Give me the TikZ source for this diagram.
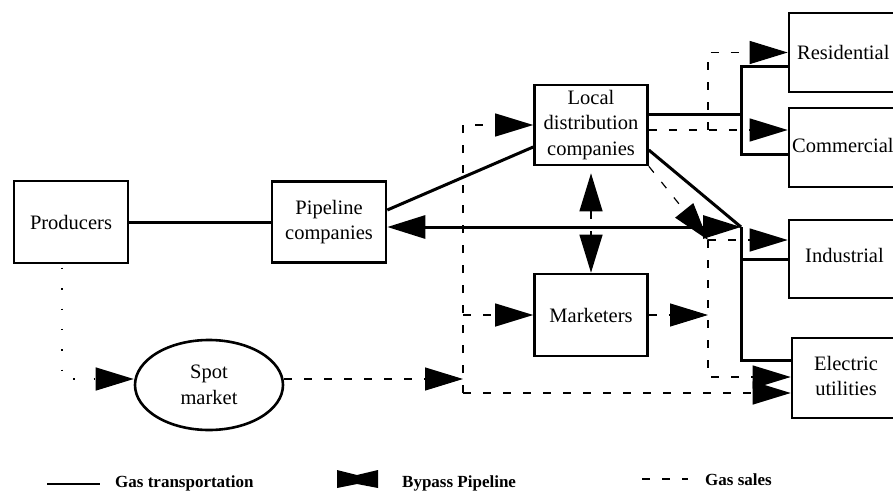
\documentclass[tikz,border=0pt]{standalone}
\usepackage{fontspec}
\setmainfont{Liberation Serif}
\usetikzlibrary{arrows.meta,shapes.geometric}
\begin{document}
\begin{tikzpicture}[x=1pt,y=-1pt,
  box/.style={draw,line width=2.6pt,inner sep=0pt,align=center,font=\fontsize{20.5}{25.5}\selectfont},
  txt/.style={inner sep=0pt,align=center,font=\fontsize{20.5}{25.5}\selectfont},
  legtxt/.style={inner sep=0pt,font=\bfseries\fontsize{17}{20}\selectfont},
  transp/.style={line width=3pt},
  sale/.style={line width=1.2pt,dash pattern=on 8pt off 12pt},
  dotline/.style={line width=1.4pt,dash pattern=on 1.4pt off 19pt,dash phase=17pt},
  tip/.style={-{Triangle[length=38pt,width=23pt]}},
  twotip/.style={{Triangle[length=38pt,width=23pt]}-{Triangle[length=38pt,width=23pt]}}
]
\useasboundingbox (0,0) rectangle (893,492);

% boxes
\node[box,minimum width=114pt,minimum height=82pt] (prod) at (71,222) {Producers};
\node[box,minimum width=114pt,minimum height=81pt] (pipe) at (329,222) {Pipeline\\companies};
\node[box,minimum width=113pt,minimum height=80pt] (ldc) at (591,125) {Local\\distribution\\companies};
\node[box,minimum width=113pt,minimum height=82pt] (mkt) at (591,315) {Marketers};
\node[box,minimum width=120pt,minimum height=79pt] (res) at (849,52.5) {};
\node[box,minimum width=120pt,minimum height=79pt] (com) at (849,147.5) {};
\node[box,minimum width=120pt,minimum height=78pt] (ind) at (849,259) {};
\node[box,minimum width=117pt,minimum height=80pt] (elec) at (850.5,378) {};
\node[draw,ellipse,line width=2.6pt,minimum width=148pt,minimum height=90pt,txt] (spot) at (209,385) {Spot\\market};

\node[txt,anchor=west] (restxt) at (797,52) {Residential};
\node[txt,anchor=west] (comtxt) at (792,145) {Commercial};
\node[txt,anchor=west] (indtxt) at (805,255) {Industrial};
\node[txt] (electxt) at (846,376) {Electric\\utilities};

% junction coordinates
\coordinate (J) at (741,227);
\coordinate (V) at (741,115);
\coordinate (D1) at (708,130);
\coordinate (B) at (708,240);
\coordinate (L) at (463,393);
\coordinate (S) at (463,379);

% gas transportation (solid)
\draw[transp] (prod) -- (pipe);
\draw[transp] ([yshift=12pt]pipe.east) -- ([yshift=-22pt]ldc.west);
\draw[transp,twotip] ([yshift=-5pt]pipe.east) -- (J);
\draw[transp] ([yshift=-25pt]ldc.east) -- (J);
\draw[transp] (J) |- ([yshift=18pt]elec.west);
\draw[transp] (J |- ind.west) -- (ind.west);
\draw[transp] ([yshift=10pt]ldc.east) -- (V);
\draw[transp] ([yshift=-14.5pt]res.west) -| (V);
\draw[transp] ([yshift=-6.5pt]com.west) -| (V);

% gas sales (dashed)
\draw[sale,tip] (D1) |- (res.west);
\draw[sale,tip] ([yshift=-5pt]ldc.east) -- (com.west |- D1);
\draw[sale,tip] (L) |- (ldc.west);
\draw[sale,tip] (L |- mkt.west) -- (mkt.west);
\draw[sale,tip] (L) -- (elec.west |- L);
\draw[sale,tip] ([yshift=6pt]spot.east) -- (S);
\draw[sale,tip] (ldc.south east) -- (B);
\draw[sale,tip] (B) -- (ind.west |- B);
\draw[sale,tip] (B) |- ([yshift=1pt]elec.west);
\draw[sale,tip] (mkt.east) -- (mkt.east -| B);
\draw[sale,twotip,shorten <=7pt] (ldc.south) -- (mkt.north);

% producers to spot market
\draw[dotline,tip] ([xshift=-9pt]prod.south) |- ([yshift=6pt]spot.west);

% legend
\draw[line width=2.4pt] (47,484) -- (100,484);
\node[legtxt,anchor=west] (lg1) at (115,483) {Gas transportation};
\fill (337,470) -- (357,475) -- (378,470) -- (378,488) -- (357,484) -- (337,488) -- cycle;
\node[legtxt,anchor=west] (lg2) at (402,483) {Bypass Pipeline};
\draw[sale] (642,479) -- (688,479);
\node[legtxt,anchor=west] (lg3) at (705,480) {Gas sales};
\end{tikzpicture}
\end{document}
